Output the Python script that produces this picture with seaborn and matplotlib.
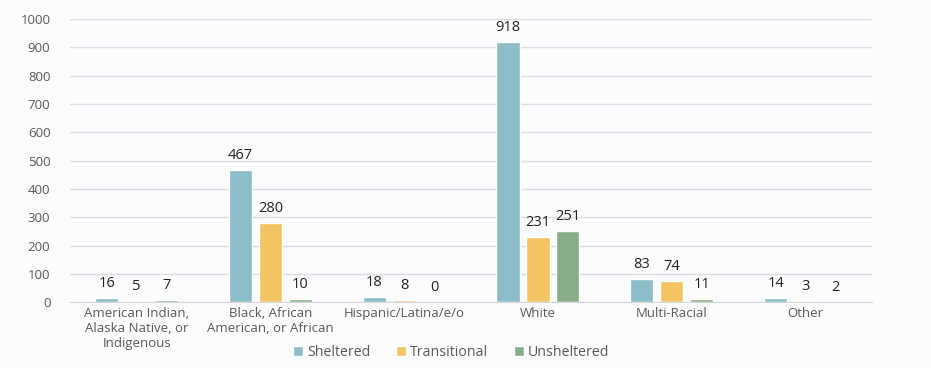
import numpy as np
import pandas as pd
import seaborn as sns
import matplotlib.pyplot as plt

categories = ['American Indian,\nAlaska Native, or\nIndigenous', 'Black, African\nAmerican, or African',
              'Hispanic/Latina/e/o', 'White', 'Multi-Racial', 'Other']
series = ['Sheltered', 'Transitional', 'Unsheltered']
sheltered = [16, 467, 18, 918, 83, 14]
transitional = [5, 280, 8, 231, 74, 3]
unsheltered = [7, 10, 0, 251, 11, 2]
colors = ['#8bbcc8', '#f2c462', '#89ad8a']

df = pd.DataFrame({
    'group': categories * 3,
    'status': np.repeat(series, len(categories)),
    'count': sheltered + transitional + unsheltered,
})

sns.set_style('white')
plt.rcParams['font.family'] = ['Open Sans', 'DejaVu Sans']

fig = plt.figure(figsize=(9.31, 3.68), dpi=100, facecolor='#fbfcfd')
ax = fig.add_axes([0.075, 0.179, 0.862, 0.769])
ax.set_facecolor('#fbfcfd')

sns.barplot(data=df, x='group', y='count', hue='status', palette=colors,
            width=0.67, gap=0.22, ax=ax, saturation=1, legend=True)

for cont in ax.containers:
    ax.bar_label(cont, padding=5, fontsize=10.5, color='#222222')

ax.set_ylim(0, 1000)
ax.set_yticks(range(0, 1001, 100))
ax.yaxis.grid(True, color='#dcdde0', linewidth=1)
ax.set_axisbelow(True)
for s in ['top', 'right', 'left']:
    ax.spines[s].set_visible(False)
ax.spines['bottom'].set_color('#d5d6d9')
ax.tick_params(axis='both', length=0, labelsize=9.5, labelcolor='#595959')
ax.tick_params(axis='y', pad=14)
ax.set_xlabel('')
ax.set_ylabel('')

leg = ax.legend(loc='lower center', bbox_to_anchor=(0.475, -0.25), ncol=3, frameon=False,
                fontsize=10.2, handlelength=0.7, handleheight=0.7, handletextpad=0.3, columnspacing=1.8)
for t in leg.get_texts():
    t.set_color('#595959')

fig.savefig('out.png', dpi=100, facecolor=fig.get_facecolor())
